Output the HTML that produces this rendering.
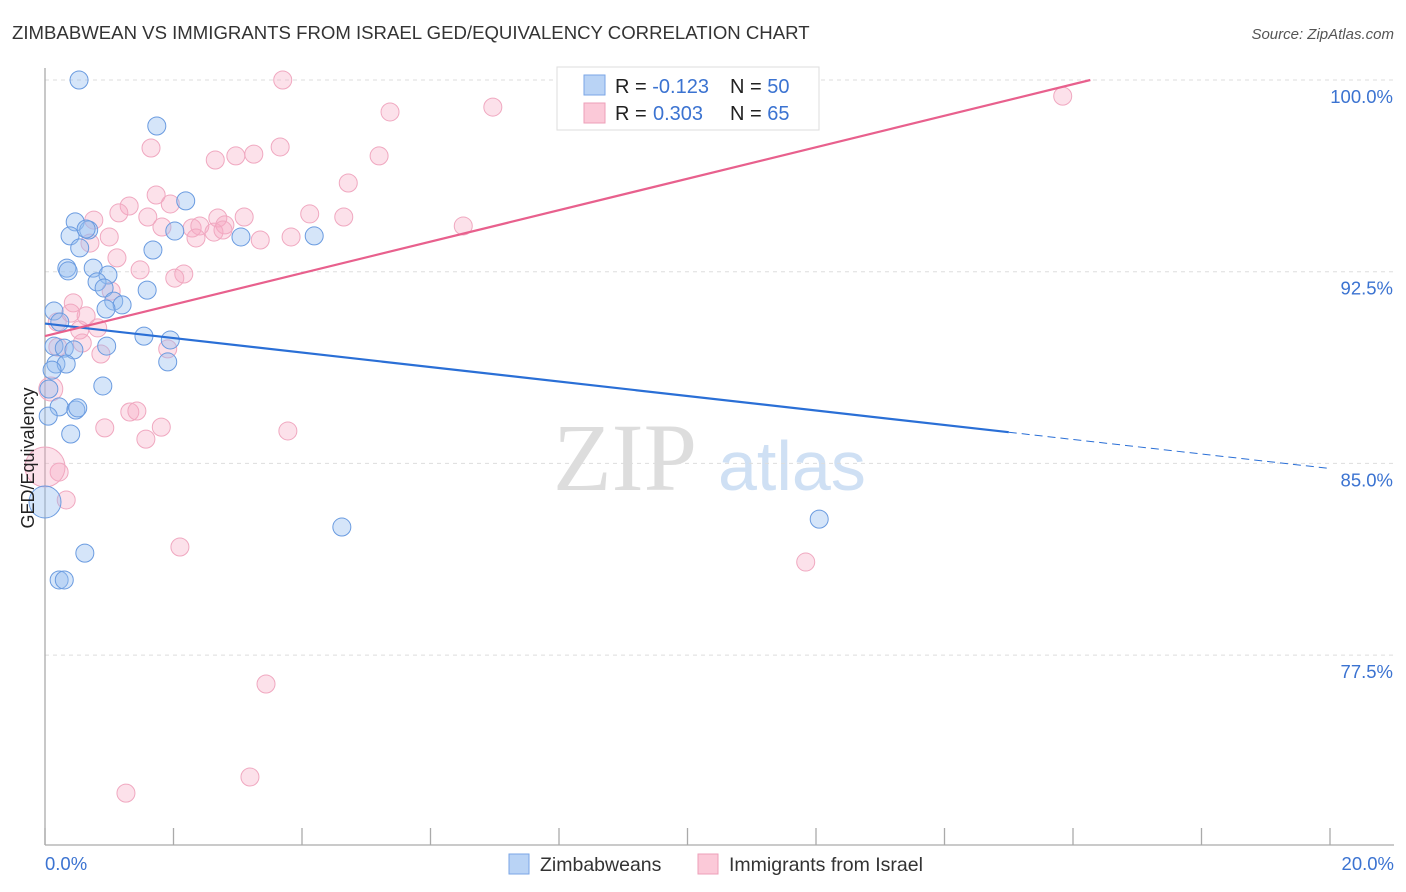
<!DOCTYPE html>
<html><head><meta charset="utf-8"><style>
body{margin:0;background:#fff;font-family:"Liberation Sans",sans-serif;}
svg{display:block}
</style></head><body>
<svg id="chart" width="1406" height="892" xmlns="http://www.w3.org/2000/svg">
<text x="12" y="39" font-size="18.6" fill="#333">ZIMBABWEAN VS IMMIGRANTS FROM ISRAEL GED/EQUIVALENCY CORRELATION CHART</text>
<text x="1394" y="39" font-size="15" fill="#555" font-style="italic" text-anchor="end">Source: ZipAtlas.com</text>
<g>
<text x="553" y="490" font-size="96" font-family="Liberation Serif,serif" fill="#ddd">ZIP</text>
<text x="718" y="490" font-size="70" fill="#cfe0f4">atlas</text>
</g>
<g id="grid"></g>
<g id="axes"></g>
<g id="pts"></g>
<g id="trends"></g>
<text x="34" y="458" font-size="18" fill="#222" text-anchor="middle" transform="rotate(-90 34 458)">GED/Equivalency</text>
<text x="45" y="870" font-size="18.5" fill="#3b73d1">0.0%</text>
<text x="1394" y="870" font-size="18.5" fill="#3b73d1" text-anchor="end">20.0%</text>
<g>
<rect x="557" y="67" width="262" height="63" fill="#fff" stroke="#ddd"/>
<rect x="584" y="75" width="21" height="20" fill="#b9d3f5" stroke="#7aa6e6"/>
<rect x="584" y="103" width="21" height="20" fill="#fbc9d8" stroke="#ee9fb8"/>
<text x="615" y="93" font-size="20" fill="#222">R = <tspan fill="#3b73d1">-0.123</tspan><tspan x="730">N = </tspan><tspan fill="#3b73d1">50</tspan></text>
<text x="615" y="120" font-size="20" fill="#222">R = <tspan x="653" fill="#3b73d1">0.303</tspan><tspan x="730">N = </tspan><tspan fill="#3b73d1">65</tspan></text>
</g>
<g>
<rect x="509" y="854" width="20" height="20" fill="#b9d3f5" stroke="#7aa6e6"/>
<text x="540" y="871" font-size="19.5" fill="#333">Zimbabweans</text>
<rect x="698" y="854" width="20" height="20" fill="#fbc9d8" stroke="#ee9fb8"/>
<text x="729" y="871" font-size="19.5" fill="#333">Immigrants from Israel</text>
</g>
</svg>
<script>
const yTicks=[100,92.5,85,77.5];
const yTickLabels=["100.0%","92.5%","85.0%","77.5%"];
const blueX=[0.53,1.74,2.19,0.47,0.68,0.39,2.02,3.05,4.19,0.54,1.68,0.34,0.36,0.75,0.98,0.81,0.92,1.59,1.07,1.20,0.95,0.14,0.23,1.54,1.95,0.96,0.14,0.30,0.45,0.17,0.33,1.91,0.11,0.90,0.06,0.22,0.48,0.51,0.05,0.40,0,4.62,12.05,0.62,0.22,0.30,0.64];
const blueY=[100,98.2,95.27,94.45,94.13,93.9,94.09,93.86,93.9,93.43,93.35,92.64,92.53,92.64,92.37,92.1,91.86,91.78,91.35,91.2,91.04,90.96,90.53,89.98,89.83,89.59,89.59,89.51,89.44,88.89,88.89,88.97,88.65,88.03,87.91,87.21,87.09,87.17,86.85,86.15,83.49,82.51,82.82,81.49,80.44,80.44,94.17];
const blueSize=[9,9,9,9,9,9,9,9,9,9,9,9,9,9,9,9,9,9,9,9,9,9,9,9,9,9,9,9,9,9,9,9,9,9,9,9,9,9,9,9,16,9,9,9,9,9,9];
const pinkX=[3.70,10.41,10.83,15.84,6.97,5.37,1.65,3.66,2.97,3.25,2.65,5.20,4.72,1.73,1.31,1.95,0.76,1.15,1.60,1.82,3.10,4.12,4.65,6.51,2.69,2.29,2.41,2.80,2.63,2.77,3.35,2.35,3.83,1.00,0.70,1.12,1.48,2.16,2.02,1.03,0.44,0.64,0.19,0.40,0.82,0.54,0.20,0.58,1.91,0.87,0.09,1.32,1.43,0.93,1.81,3.78,1.57,0.22,0,0.33,2.10,11.84,3.44,3.19,1.26];
const pinkY=[100,100,100,99.37,98.94,98.75,97.34,97.38,97.03,97.1,96.87,97.03,95.97,95.5,95.07,95.15,94.52,94.8,94.64,94.25,94.64,94.76,94.64,94.29,94.6,94.21,94.29,94.33,94.05,94.13,93.74,93.82,93.86,93.86,93.62,93.04,92.57,92.41,92.25,91.74,91.28,90.77,90.53,90.88,90.3,90.22,89.55,89.71,89.48,89.28,87.91,87.01,87.05,86.39,86.42,86.27,85.95,84.66,84.86,83.57,81.73,81.14,76.37,72.73,72.1];
const pinkSize=pinkX.map((v,i)=>i===58?20:(i===50?12:9));
const blueTrend=[[0,90.47],[15,86.22],[20,84.8]];
const pinkTrend=[[0,89.98],[16.27,100]];
const NS="http://www.w3.org/2000/svg";
const X=v=>45+v/20*1285;
const Y=v=>80+(100-v)*25.56;
function mk(tag,attrs,parent){const e=document.createElementNS(NS,tag);for(const k in attrs)e.setAttribute(k,attrs[k]);parent.appendChild(e);return e;}
const grid=document.getElementById('grid'),axes=document.getElementById('axes'),pts=document.getElementById('pts'),tr=document.getElementById('trends');
yTicks.forEach((t,i)=>{
 const l=mk('line',{x1:45,x2:1394,y1:Y(t),y2:Y(t),stroke:'#ddd','stroke-dasharray':'4,4'},grid);
 
 
 const tx=mk('text',{x:1393,y:Y(t)+23,'font-size':18.5,fill:'#3b73d1','text-anchor':'end'},grid);
 tx.textContent=yTickLabels[i];
 
 
});
const ya=mk('line',{x1:45,x2:45,y1:68,y2:845,stroke:'#aaa','stroke-width':1.3},axes);


const xa=mk('line',{x1:45,x2:1394,y1:845,y2:845,stroke:'#aaa','stroke-width':1.3},axes);


for(let i=0;i<=10;i++){
 const t=mk('line',{x1:X(i*2),x2:X(i*2),y1:828,y2:845,stroke:'#aaa','stroke-width':1.3},axes);
 
 
}
pinkX.forEach((v,i)=>{
 const c=mk('circle',{cx:X(v),cy:Y(pinkY[i]),r:pinkSize[i],fill:'rgba(246,170,195,0.35)',stroke:'#f0a8c0','stroke-width':1},pts);
 
 
});
blueX.forEach((v,i)=>{
 const c=mk('circle',{cx:X(v),cy:Y(blueY[i]),r:blueSize[i],fill:'rgba(150,190,240,0.4)',stroke:'#6a9be0','stroke-width':1},pts);
 
 
});
const b1=mk('line',{x1:X(blueTrend[0][0]),y1:Y(blueTrend[0][1]),x2:X(blueTrend[1][0]),y2:Y(blueTrend[1][1]),stroke:'#2a6fd6','stroke-width':2.2},tr);


const b2=mk('line',{x1:X(blueTrend[1][0]),y1:Y(blueTrend[1][1]),x2:X(blueTrend[2][0]),y2:Y(blueTrend[2][1]),stroke:'#2a6fd6','stroke-width':1,'stroke-dasharray':'8,5'},tr);


const p1=mk('line',{x1:X(pinkTrend[0][0]),y1:Y(pinkTrend[0][1]),x2:X(pinkTrend[1][0]),y2:Y(pinkTrend[1][1]),stroke:'#e8608d','stroke-width':2.2},tr);


</script>
</body></html>
